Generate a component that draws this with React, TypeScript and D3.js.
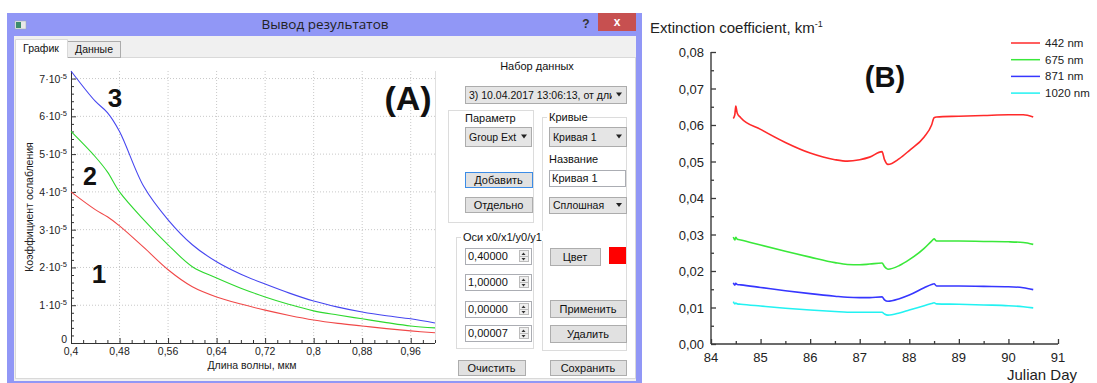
import * as d3 from 'd3';
import React, { useEffect, useRef } from 'react';

// --- Panel A: extinction vs wavelength (values in 1e-5) ---
const wavelength = [0.4, 0.44, 0.46, 0.48, 0.52, 0.56, 0.6, 0.64, 0.68, 0.72, 0.76, 0.8, 0.84, 0.88, 0.92, 0.96, 1.0];
const curve1 = [4.0, 3.53, 3.34, 3.1, 2.53, 1.94, 1.49, 1.22, 1.03, 0.87, 0.73, 0.61, 0.52, 0.45, 0.38, 0.32, 0.27];
const curve2 = [5.6, 4.93, 4.53, 4.0, 3.26, 2.6, 2.02, 1.72, 1.45, 1.22, 1.02, 0.85, 0.74, 0.64, 0.54, 0.45, 0.4];
const curve3 = [7.2, 6.4, 6.1, 5.6, 4.14, 3.26, 2.6, 2.15, 1.82, 1.56, 1.32, 1.11, 0.95, 0.82, 0.72, 0.64, 0.53];
const aXTicks = [0.4, 0.48, 0.56, 0.64, 0.72, 0.8, 0.88, 0.96];
const aXLabels = ['0,4', '0,48', '0,56', '0,64', '0,72', '0,8', '0,88', '0,96'];
const aYTicks = [0, 1, 2, 3, 4, 5, 6, 7];

// --- Panel B: extinction vs julian day ---
const days = [84.45, 84.48, 84.5, 84.53, 84.6, 85, 85.5, 86, 86.5, 86.75, 87, 87.2, 87.45, 87.5, 87.57, 87.8, 88, 88.3, 88.45, 88.5, 88.55, 89, 89.5, 90, 90.3, 90.5];
const ext442 = [0.0618, 0.0628, 0.0652, 0.0632, 0.062, 0.0588, 0.0552, 0.0523, 0.0505, 0.0501, 0.0505, 0.0512, 0.0527, 0.0505, 0.0492, 0.0508, 0.053, 0.0567, 0.06, 0.062, 0.0622, 0.0624, 0.0626, 0.0628, 0.0628, 0.0622];
const ext675 = [0.0293, 0.0285, 0.0292, 0.0287, 0.0285, 0.0271, 0.0254, 0.0238, 0.0223, 0.0218, 0.0217, 0.0219, 0.0222, 0.0212, 0.0205, 0.0215, 0.0231, 0.0262, 0.0282, 0.0288, 0.0282, 0.0282, 0.0281, 0.028, 0.0278, 0.0273];
const ext871 = [0.0168, 0.0161, 0.0166, 0.0163, 0.0162, 0.0155, 0.0146, 0.0138, 0.0131, 0.0128, 0.0127, 0.0127, 0.0129, 0.0121, 0.0117, 0.0124, 0.0134, 0.0154, 0.0163, 0.0165, 0.0159, 0.0159, 0.0158, 0.0157, 0.0154, 0.0149];
const ext1020 = [0.0116, 0.011, 0.0112, 0.011, 0.0109, 0.0104, 0.0098, 0.0093, 0.0089, 0.0087, 0.0087, 0.0087, 0.0087, 0.0082, 0.0079, 0.0085, 0.0093, 0.0105, 0.0111, 0.0113, 0.011, 0.0109, 0.0107, 0.0105, 0.0102, 0.0099];
const bLegend = ['442 nm', '675 nm', '871 nm', '1020 nm'];
const bColors = ['#ff2a2a', '#3ae83a', '#3636ff', '#22f2f2'];
const bXTicks = [84, 85, 86, 87, 88, 89, 90, 91];
const bYTicks = [0, 0.01, 0.02, 0.03, 0.04, 0.05, 0.06, 0.07, 0.08];

const UI_FONT = '"Liberation Sans", Arial, sans-serif';

function Button({ x, y, w, h, label, focus = false }) {
    return (
        <g>
            <rect x={x + 0.5} y={y + 0.5} width={w} height={h} fill="#e1e1e1" stroke={focus ? '#3c8ce6' : '#adadad'} />
            <text x={x + w / 2} y={y + h / 2 + 4} textAnchor="middle" fontSize={11} fontFamily={UI_FONT} fill="#111">{label}</text>
        </g>
    );
}

function Combo({ x, y, w, h, label, id }) {
    return (
        <g>
            <clipPath id={id}><rect x={x} y={y} width={w - 14} height={h} /></clipPath>
            <rect x={x + 0.5} y={y + 0.5} width={w} height={h} fill="#e5e5e5" stroke="#acacac" />
            <text x={x + 4} y={y + h / 2 + 4} fontSize={10.5} fontFamily={UI_FONT} fill="#111" clipPath={`url(#${id})`}>{label}</text>
            <path d={`M${x + w - 10},${y + h / 2 - 2} l6,0 l-3,4 z`} fill="#222" />
        </g>
    );
}

function Spin({ x, y, label }) {
    const w = 66, h = 16;
    return (
        <g>
            <rect x={x + 0.5} y={y + 0.5} width={w} height={h} fill="#fff" stroke="#abadb3" />
            <text x={x + 3} y={y + 12} fontSize={11} fontFamily={UI_FONT} fill="#111">{label}</text>
            <rect x={x + w - 12 + 0.5} y={y + 2.5} width={9} height={11} fill="#efefef" stroke="#bcbcbc" />
            <line x1={x + w - 11} x2={x + w - 3} y1={y + 8.5} y2={y + 8.5} stroke="#bcbcbc" />
            <path d={`M${x + w - 9.5},${y + 7} l4,0 l-2,-2.5 z`} fill="#333" />
            <path d={`M${x + w - 9.5},${y + 10} l4,0 l-2,2.5 z`} fill="#333" />
        </g>
    );
}

function Group({ x, y, w, h, title, inside = false }) {
    return (
        <g>
            <rect x={x + 0.5} y={y + 0.5} width={w} height={h} fill="none" stroke="#dcdcdc" />
            {!inside && <rect x={x + 5} y={y - 6} width={title.length * 6 + 4} height={10} fill="#fff" />}
            <text x={inside ? x + 17 : x + 7} y={inside ? y + 12 : y + 4} fontSize={11} fontFamily={UI_FONT} fill="#111">{title}</text>
        </g>
    );
}

export default function App() {
    const chartARef = useRef(null);
    const chartBRef = useRef(null);

    useEffect(() => {
        // ---------- Panel A ----------
        const gA = d3.select(chartARef.current);
        gA.selectAll('*').remove();
        const x = d3.scaleLinear().domain([0.4, 1.0]).range([71, 435]);
        const y = d3.scaleLinear().domain([0, 7.2]).range([343, 71]);

        // dotted grid
        gA.append('g').selectAll('line').data(aXTicks.slice(1)).join('line')
            .attr('x1', d => x(d)).attr('x2', d => x(d)).attr('y1', 71).attr('y2', 343)
            .attr('stroke', '#c8c8c8').attr('stroke-dasharray', '1,2');
        gA.append('g').selectAll('line').data(aYTicks.slice(1)).join('line')
            .attr('x1', 71).attr('x2', 435).attr('y1', d => y(d)).attr('y2', d => y(d))
            .attr('stroke', '#c8c8c8').attr('stroke-dasharray', '1,2');
        gA.append('line').attr('x1', 435.5).attr('x2', 435.5).attr('y1', 71).attr('y2', 343).attr('stroke', '#e0e0e0');

        // axes with inward ticks
        const xAxis = d3.axisBottom(x).tickValues(d3.range(0.4, 1.001, 0.02)).tickSize(-3).tickFormat(() => '');
        gA.append('g').attr('transform', 'translate(0,343)').call(xAxis)
            .call(g => g.select('.domain').attr('stroke', '#333').attr('d', 'M71.5,0.5H435'))
            .call(g => g.selectAll('.tick line').attr('stroke', '#333')
                .attr('y2', (d, i) => (i % 4 === 0 ? -5 : -3)));
        const yAxis = d3.axisLeft(y).tickValues(d3.range(0, 7.01, 0.2)).tickSize(-3).tickFormat(() => '');
        gA.append('g').attr('transform', 'translate(71,0)').call(yAxis)
            .call(g => g.select('.domain').attr('stroke', '#333').attr('d', 'M0.5,343V71'))
            .call(g => g.selectAll('.tick line').attr('stroke', '#333')
                .attr('x2', (d, i) => (i % 5 === 0 ? 5 : 3)));

        // tick labels
        gA.append('g').selectAll('text').data(aXTicks).join('text')
            .attr('x', d => x(d)).attr('y', 355).attr('text-anchor', 'middle')
            .attr('font-size', 10.5).attr('font-family', UI_FONT).attr('fill', '#222')
            .text((d, i) => aXLabels[i]);
        const yl = gA.append('g').selectAll('text').data(aYTicks).join('text')
            .attr('x', 67).attr('y', d => y(d) + (d === 0 ? 0 : 4)).attr('text-anchor', 'end')
            .attr('font-size', 10.5).attr('font-family', UI_FONT).attr('fill', '#222');
        yl.each(function (d) {
            const t = d3.select(this);
            if (d === 0) { t.text('0'); return; }
            t.append('tspan').text(`${d}·10`);
            t.append('tspan').attr('dy', -4).attr('font-size', 7.5).text('-5');
        });

        // axis titles
        gA.append('text').attr('transform', 'translate(33,207) rotate(-90)').attr('text-anchor', 'middle')
            .attr('font-size', 10.5).attr('font-family', UI_FONT).attr('fill', '#222').text('Коэффициент ослабления');
        gA.append('text').attr('x', 252).attr('y', 369).attr('text-anchor', 'middle')
            .attr('font-size', 10.5).attr('font-family', UI_FONT).attr('fill', '#222').text('Длина волны, мкм');

        const lineA = d3.line().x((d, i) => x(wavelength[i])).y(d => y(d)).curve(d3.curveCatmullRom.alpha(0.5));
        [[curve1, '#f04848'], [curve2, '#2ed82e'], [curve3, '#4646f0']].forEach(([vals, c]) => {
            gA.append('path').attr('d', lineA(vals)).attr('fill', 'none').attr('stroke', c).attr('stroke-width', 1.1);
        });

        // ---------- Panel B ----------
        const gB = d3.select(chartBRef.current);
        gB.selectAll('*').remove();
        const xb = d3.scaleLinear().domain([84, 91]).range([711, 1058]);
        const yb = d3.scaleLinear().domain([0, 0.08]).range([344, 52]);

        const xbAxis = d3.axisBottom(xb).tickValues(d3.range(84, 91.01, 0.5)).tickSize(-3).tickFormat(() => '');
        gB.append('g').attr('transform', 'translate(0,344)').call(xbAxis)
            .call(g => g.select('.domain').attr('stroke', '#3a3a3a').attr('stroke-width', 1.4).attr('d', 'M711,0H1058'))
            .call(g => g.selectAll('.tick line').attr('stroke', '#3a3a3a').attr('stroke-width', 1.3)
                .attr('y2', (d, i) => (i % 2 === 0 ? -5 : -3)));
        const ybAxis = d3.axisLeft(yb).tickValues(d3.range(0, 0.0801, 0.005)).tickSize(-3).tickFormat(() => '');
        gB.append('g').attr('transform', 'translate(711,0)').call(ybAxis)
            .call(g => g.select('.domain').attr('stroke', '#3a3a3a').attr('stroke-width', 1.4).attr('d', 'M0,344V52'))
            .call(g => g.selectAll('.tick line').attr('stroke', '#3a3a3a').attr('stroke-width', 1.3)
                .attr('x2', (d, i) => (i % 2 === 0 ? 5 : 3)));

        gB.append('g').selectAll('text').data(bXTicks).join('text')
            .attr('x', d => xb(d)).attr('y', 362).attr('text-anchor', 'middle')
            .attr('font-size', 13).attr('font-family', UI_FONT).attr('fill', '#222').text(d => d);
        gB.append('g').selectAll('text').data(bYTicks).join('text')
            .attr('x', 704).attr('y', d => yb(d) + 5).attr('text-anchor', 'end')
            .attr('font-size', 13).attr('font-family', UI_FONT).attr('fill', '#222')
            .text(d => d3.format('.2f')(d).replace('.', ','));

        gB.append('text').attr('x', 1077).attr('y', 380).attr('text-anchor', 'end')
            .attr('font-size', 15).attr('font-family', UI_FONT).attr('fill', '#222').text('Julian Day');
        const title = gB.append('text').attr('x', 650).attr('y', 33)
            .attr('font-size', 15).attr('font-family', UI_FONT).attr('fill', '#222');
        title.append('tspan').text('Extinction coefficient, km');
        title.append('tspan').attr('dy', -6).attr('font-size', 9).text('-1');

        const lineB = d3.line().x((d, i) => xb(days[i])).y(d => yb(d)).curve(d3.curveMonotoneX);
        [ext442, ext675, ext871, ext1020].forEach((vals, k) => {
            gB.append('path').attr('d', lineB(vals)).attr('fill', 'none')
                .attr('stroke', bColors[k]).attr('stroke-width', 1.6);
        });

        const leg = gB.append('g').selectAll('g').data(bLegend).join('g')
            .attr('transform', (d, i) => `translate(1011,${43 + i * 16.7})`);
        leg.append('line').attr('x1', 0).attr('x2', 29).attr('stroke', (d, i) => bColors[i]).attr('stroke-width', 1.5);
        leg.append('text').attr('x', 34).attr('y', 4).attr('font-size', 11.5).attr('font-family', UI_FONT)
            .attr('fill', '#222').text(d => d);
    }, []);

    return (
        <svg width={1097} height={383} style={{ position: 'absolute', left: 0, top: 0, background: '#fff' }}>
            {/* window frame */}
            <rect x={7} y={13} width={635} height={370} fill="#9197f6" />
            <rect x={15} y={21} width={11} height={8} fill="#e8e8e8" stroke="#9aa" strokeWidth={0.5} />
            <rect x={16} y={22} width={5} height={6} fill="#3c8c6c" />
            <text x={325} y={29} textAnchor="middle" fontSize={13.5} fontFamily='"Open Sans", "Noto Sans", sans-serif' fill="#222">Вывод результатов</text>
            <text x={586} y={28} textAnchor="middle" fontSize={12} fontWeight="bold" fontFamily={UI_FONT} fill="#333">?</text>
            <rect x={598} y={13} width={38} height={18} fill="#c75050" />
            <text x={617} y={26} textAnchor="middle" fontSize={12} fontWeight="bold" fontFamily={UI_FONT} fill="#fff">x</text>
            <rect x={14} y={36} width={622} height={345} fill="#f0f0f0" />
            <rect x={15.5} y={57.5} width={620} height={321} fill="#fff" stroke="#d9d9d9" />
            <rect x={67.5} y={41.5} width={53} height={16} fill="#ececec" stroke="#acacac" />
            <text x={94} y={53} textAnchor="middle" fontSize={10.5} fontFamily={UI_FONT} fill="#111">Данные</text>
            <path d="M15.5,58 V39.5 H67.5 V58" fill="#fff" stroke="#d9d9d9" />
            <rect x={16} y={56} width={51} height={3} fill="#fff" />
            <text x={41} y={52} textAnchor="middle" fontSize={10.5} fontFamily={UI_FONT} fill="#111">График</text>

            {/* side panel */}
            <text x={537} y={70} textAnchor="middle" fontSize={11} fontFamily={UI_FONT} fill="#111">Набор данных</text>
            <Combo id="c1" x={465} y={86} w={161} h={17} label="3) 10.04.2017 13:06:13, от длины" />
            <Group x={448} y={110} w={85} h={112} title="Параметр" inside />
            <Combo id="c2" x={465} y={127} w={66} h={19} label="Group Ext" />
            <Button x={465} y={172} w={67} h={15} label="Добавить" focus />
            <Button x={465} y={197} w={67} h={15} label="Отдельно" />
            <Group x={542} y={117} w={84} h={233} title="Кривые" />
            <Combo id="c3" x={549} y={127} w={77} h={19} label="Кривая 1" />
            <text x={549} y={163} fontSize={11} fontFamily={UI_FONT} fill="#111">Название</text>
            <rect x={549.5} y={170.5} width={76} height={16} fill="#fff" stroke="#abadb3" />
            <text x={552} y={182} fontSize={11} fontFamily={UI_FONT} fill="#111">Кривая 1</text>
            <Combo id="c4" x={549} y={197} w={77} h={16} label="Сплошная" />
            <Button x={550} y={248} w={50} h={17} label="Цвет" />
            <rect x={609} y={247} width={17} height={17} fill="#ff0000" />
            <Button x={550} y={300} w={76} h={17} label="Применить" />
            <Button x={550} y={325} w={76} h={17} label="Удалить" />
            <Group x={456} y={237} w={77} h={111} title="Оси x0/x1/y0/y1" />
            <Spin x={465} y={248} label="0,40000" />
            <Spin x={465} y={274} label="1,00000" />
            <Spin x={465} y={301} label="0,00000" />
            <Spin x={465} y={325} label="0,00007" />
            <Button x={458} y={360} w={67} h={15} label="Очистить" />
            <Button x={550} y={360} w={76} h={15} label="Сохранить" />

            <g ref={chartARef} />
            <text x={408} y={110} textAnchor="middle" fontSize={34} fontWeight="bold" fontFamily={UI_FONT} fill="#111">(A)</text>
            <text x={115} y={107} textAnchor="middle" fontSize={26} fontWeight="bold" fontFamily={UI_FONT} fill="#111">3</text>
            <text x={90} y={185} textAnchor="middle" fontSize={25} fontWeight="bold" fontFamily={UI_FONT} fill="#111">2</text>
            <text x={99} y={283} textAnchor="middle" fontSize={26} fontWeight="bold" fontFamily={UI_FONT} fill="#111">1</text>

            <g ref={chartBRef} />
            <text x={885} y={87} textAnchor="middle" fontSize={29} fontWeight="bold" fontFamily={UI_FONT} fill="#111">(B)</text>
        </svg>
    );
}
